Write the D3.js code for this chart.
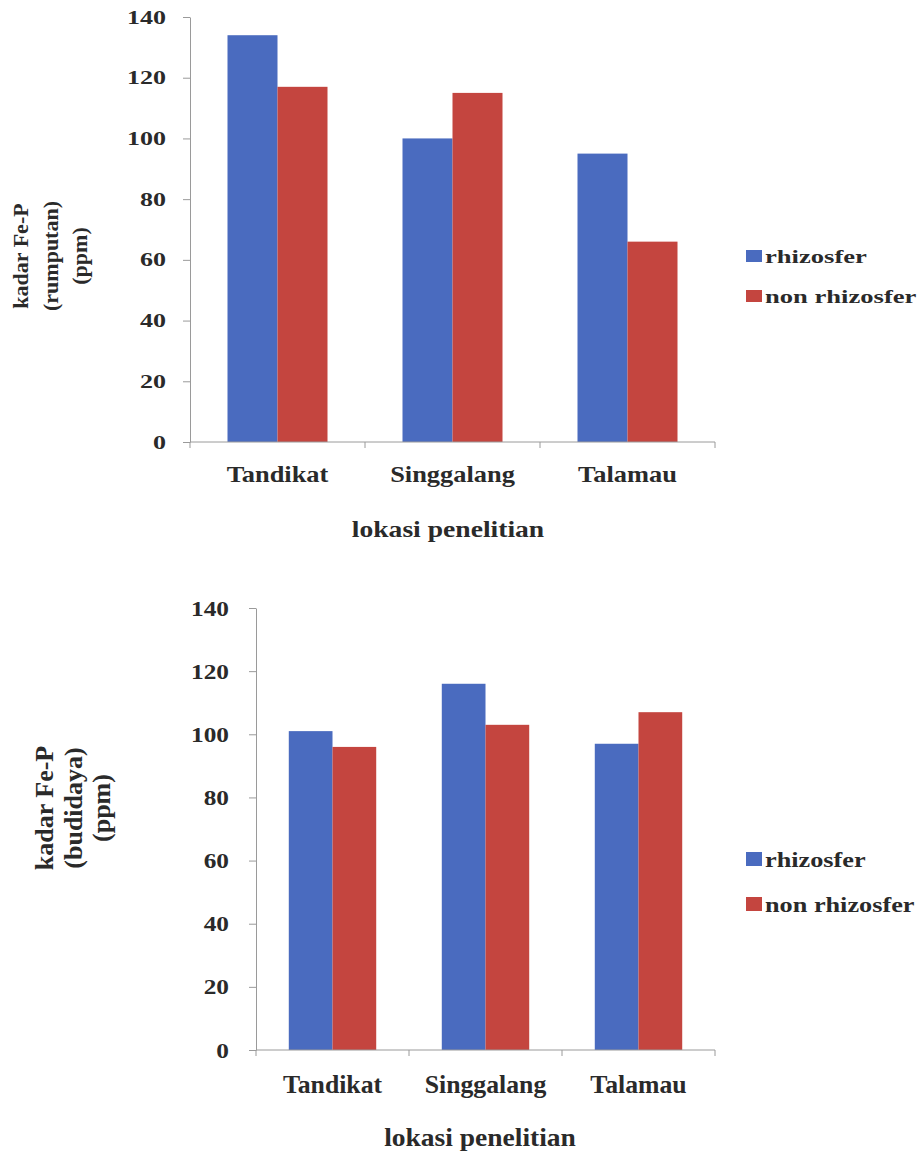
<!DOCTYPE html>
<html lang="id">
<head>
<meta charset="UTF-8">
<title>Kadar Fe-P</title>
<script src="https://d3js.org/d3.v7.min.js"></script>
<style>
  body { margin: 0; background: #fff; }
  svg text { font-family: 'Liberation Serif', 'Times New Roman', serif; font-weight: bold; fill: #2a2a2a; }
  .axis path, .axis line { stroke: #9a9a9a; stroke-width: 1; }
</style>
</head>
<body>
<div id="chart"></div>
<script>
// data
const categories = ["Tandikat", "Singgalang", "Talamau"];
const seriesNames = ["rhizosfer", "non rhizosfer"];
const rumputanRhizosfer = [134, 100, 95];
const rumputanNonRhizosfer = [117, 115, 66];
const budidayaRhizosfer = [101, 116, 97];
const budidayaNonRhizosfer = [96, 103, 107];
const yTicks = [0, 20, 40, 60, 80, 100, 120, 140];
const colors = ["#4a6bbf", "#c4453f"];

const width = 919, height = 1169;

const svg = d3.select("#chart").append("svg")
    .attr("width", width)
    .attr("height", height);

// layout of each panel (positions only, values come from arrays above)
const panels = [
  {
    values: [rumputanRhizosfer, rumputanNonRhizosfer],
    yTitle: ["kadar Fe-P", "(rumputan)", "(ppm)"],
    left: 190, right: 715, top: 17, bottom: 442,
    tickFont: 19, tickScale: 1.37, tickOffset: 24,
    catFont: 24, catScale: 1.1, catBase: 482,
    xTitleFont: 24, xTitleScale: 1.15, xTitleX: 448, xTitleBase: 537,
    yTitleFont: 22, yTitleX: [28, 58, 87], yTitleY: 256,
    legFont: 19, legScale: 1.4, legY: [263, 303], legBox: [16, 12]
  },
  {
    values: [budidayaRhizosfer, budidayaNonRhizosfer],
    yTitle: ["kadar Fe-P", "(budidaya)", "(ppm)"],
    left: 256, right: 715, top: 608, bottom: 1050,
    tickFont: 22, tickScale: 1.15, tickOffset: 27,
    catFont: 25, catScale: 1.03, catBase: 1093,
    xTitleFont: 25, xTitleScale: 1.1, xTitleX: 480, xTitleBase: 1146,
    yTitleFont: 26, yTitleX: [53, 82, 110], yTitleY: 808,
    legFont: 21, legScale: 1.25, legY: [867, 912], legBox: [16, 14]
  }
];

panels.forEach(p => {
  const g = svg.append("g");

  const y = d3.scaleLinear().domain([0, 140]).range([p.bottom, p.top]);
  const x0 = d3.scaleBand().domain(categories).range([p.left, p.right]).padding(0);
  const x1 = d3.scaleBand().domain(seriesNames).range([0, x0.bandwidth()])
      .paddingInner(0).paddingOuter(0.75);

  // bars
  seriesNames.forEach((s, si) => {
    g.append("g").selectAll("rect")
      .data(categories.map((c, i) => ({ c, v: p.values[si][i] })))
      .join("rect")
      .attr("x", d => x0(d.c) + x1(s))
      .attr("y", d => y(d.v))
      .attr("width", x1.bandwidth())
      .attr("height", d => y(0) - y(d.v))
      .attr("fill", colors[si]);
  });

  // y axis
  const yAxis = g.append("g")
      .attr("class", "axis")
      .attr("transform", `translate(${p.left},0)`)
      .call(d3.axisLeft(y).tickValues(yTicks).tickSize(7).tickSizeOuter(0));
  yAxis.selectAll("text")
      .attr("x", -p.tickOffset / p.tickScale)
      .attr("transform", `scale(${p.tickScale},1)`)
      .style("font-size", p.tickFont + "px");

  // x axis line + boundary ticks
  const xa = g.append("g").attr("class", "axis");
  xa.append("line")
      .attr("x1", p.left).attr("x2", p.right)
      .attr("y1", y(0)).attr("y2", y(0));
  const bounds = categories.map(c => x0(c)).concat([x0.range()[1]]);
  xa.selectAll(".xt").data(bounds).join("line")
      .attr("class", "xt")
      .attr("x1", d => d).attr("x2", d => d)
      .attr("y1", y(0)).attr("y2", y(0) + 6);

  // category labels
  g.selectAll(".cat").data(categories).join("text")
      .attr("class", "cat")
      .attr("text-anchor", "middle")
      .attr("transform", d => `translate(${x0(d) + x0.bandwidth() / 2},${p.catBase}) scale(${p.catScale},1)`)
      .style("font-size", p.catFont + "px")
      .text(d => d);

  // x title
  g.append("text")
      .attr("text-anchor", "middle")
      .attr("transform", `translate(${p.xTitleX},${p.xTitleBase}) scale(${p.xTitleScale},1)`)
      .style("font-size", p.xTitleFont + "px")
      .text("lokasi penelitian");

  // y title, three lines
  p.yTitle.forEach((t, i) => {
    g.append("text")
      .attr("text-anchor", "middle")
      .attr("transform", `translate(${p.yTitleX[i]},${p.yTitleY}) rotate(-90)`)
      .style("font-size", p.yTitleFont + "px")
      .text(t);
  });

  // legend
  seriesNames.forEach((s, i) => {
    g.append("rect")
      .attr("x", 746)
      .attr("y", p.legY[i] - p.legBox[1] - 1)
      .attr("width", p.legBox[0])
      .attr("height", p.legBox[1])
      .attr("fill", colors[i]);
    g.append("text")
      .attr("transform", `translate(765,${p.legY[i]}) scale(${p.legScale},1)`)
      .style("font-size", p.legFont + "px")
      .text(s);
  });
});
</script>
</body>
</html>
